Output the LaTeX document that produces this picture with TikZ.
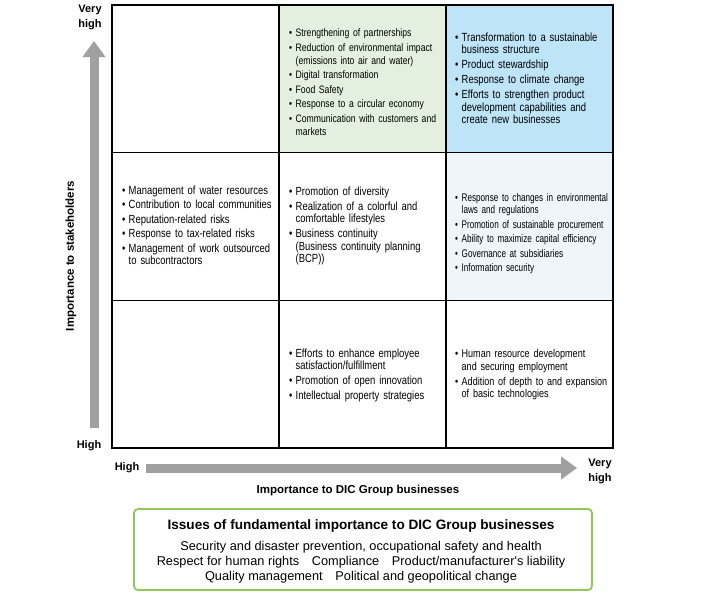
\documentclass[tikz,border=0pt]{standalone}
\usepackage{fontspec}
\setmainfont{Liberation Sans}
\newfontfamily\narrowfont[FakeStretch=0.80]{Liberation Sans}
\newfontfamily\narrowerfont[FakeStretch=0.74]{Liberation Sans}
\usetikzlibrary{positioning}
\usetikzlibrary{arrows.meta}

\definecolor{cellgreen}{RGB}{227,240,223}
\definecolor{cellblue}{RGB}{190,228,248}
\definecolor{cellpale}{RGB}{238,246,251}
\definecolor{arrowgray}{RGB}{160,160,160}
\definecolor{boxgreen}{RGB}{146,200,90}

\newcommand{\itm}[1]{\par\hangindent=6.5pt\relax\hangafter=1\relax\noindent\strut\makebox[6.5pt][l]{\textbullet}#1}

\begin{document}
\begin{tikzpicture}[%
    x=1pt, y=-1pt,
    node distance=0pt,
cell/.style={rectangle, draw=black, line width=1.3pt, outer sep=0pt, minimum width=167pt, minimum height=147.7pt},
celltext/.style={anchor=north west, inner sep=0pt, text width=165pt, align=left, font=\narrowfont\fontsize{11.8}{12.5}\selectfont, execute at begin node={\setlength{\parindent}{0pt}\setlength{\parskip}{#1}}},
celltext/.default=2.5pt,
axislabel/.style={align=center, inner sep=0pt, font=\bfseries\fontsize{11}{15}\selectfont},
axistitle/.style={inner sep=0pt, font=\bfseries\fontsize{11.5}{14}\selectfont},
bigarrow/.style={draw=arrowgray, line width=9pt, -{Triangle[width=22pt,length=16pt]}},
issuebox/.style={rectangle, rounded corners=4pt, draw=boxgreen, line width=1.8pt, minimum width=458pt, minimum height=81pt},
issuetext/.style={inner sep=0pt, align=center, font=\fontsize{12.75}{15}\selectfont}
]
\useasboundingbox (0,0) rectangle (720,600);

% matrix cells
\node[cell, anchor=north west] (c11) at (112,5) {};
\node[cell, fill=cellgreen]    (c12) [right=of c11] {};
\node[cell, fill=cellblue]     (c13) [right=of c12] {};

\node[cell]                    (c21) [below=of c11] {};
\node[cell]                    (c22) [right=of c21] {};
\node[cell, fill=cellpale]     (c23) [right=of c22] {};

\node[cell]                    (c31) [below=of c21] {};
\node[cell]                    (c32) [right=of c31] {};
\node[cell]                    (c33) [right=of c32] {};

% cell texts
\node[celltext=1.5pt, font=\narrowfont\fontsize{10.8}{13}\selectfont] (t12) at (289,22) {%
\itm{Strengthening of partnerships}
\itm{Reduction of environmental impact\newline(emissions into air and water)}
\itm{Digital transformation}
\itm{Food Safety}
\itm{Response to a circular economy}
\itm{Communication with customers and\newline markets}\par};

\node[celltext] (t13) at (455,26) {%
\itm{Transformation to a sustainable\newline business structure}
\itm{Product stewardship}
\itm{Response to climate change}
\itm{Efforts to strengthen product\newline development capabilities and\newline create new businesses}\par};

\node[celltext=2pt] (t21) at (122,179.5) {%
\itm{Management of water resources}
\itm{Contribution to local communities}
\itm{Reputation-related risks}
\itm{Response to tax-related risks}
\itm{Management of work outsourced\newline to subcontractors}\par};

\node[celltext] (t22) at (289,180) {%
\itm{Promotion of diversity}
\itm{Realization of a colorful and\newline comfortable lifestyles}
\itm{Business continuity\newline(Business continuity planning\newline(BCP))}\par};

\node[celltext=2pt, font=\narrowerfont\fontsize{11}{12.5}\selectfont] (t23) at (455,186.5) {%
\itm{Response to changes in environmental\newline laws and regulations}
\itm{Promotion of sustainable procurement}
\itm{Ability to maximize capital efficiency}
\itm{Governance at subsidiaries}
\itm{Information security}\par};

\node[celltext] (t32) at (289,342) {%
\itm{Efforts to enhance employee\newline satisfaction/fulfillment}
\itm{Promotion of open innovation}
\itm{Intellectual property strategies}\par};

\node[celltext, font=\narrowfont\fontsize{11.3}{12.5}\selectfont] (t33) at (455,342.7) {%
\itm{Human resource development\newline and securing employment}
\itm{Addition of depth to and expansion\newline of basic technologies}\par};

% axes
\coordinate (ybottom) at (94,428);
\coordinate (ytop) at (94,41);
\coordinate (xleft) at (146,468);
\coordinate (xright) at (577,468);
\draw[bigarrow] (ybottom) -- (ytop);
\draw[bigarrow] (xleft) -- (xright);

\node[axislabel] (yveryhigh) at (90,17.5) {Very\\high};
\node[axislabel] (yhigh) at (89,446) {High};
\node[axislabel] (xhigh) at (127,467.5) {High};
\node[axislabel] (xveryhigh) at (600,471) {Very\\high};
\node[axistitle] (xtitle) at (358,491) {Importance to DIC Group businesses};
\node[axistitle, rotate=90] (ytitle) at (71,256) {Importance to stakeholders};

% fundamental issues
\node[issuebox] (issues) at (363,549.5) {};
\node[issuetext] (issuestext) at (361,551.5) {%
{\bfseries\fontsize{13.6}{15}\selectfont Issues of fundamental importance to DIC Group businesses}\\[6pt]
Security and disaster prevention, occupational safety and health\\
Respect for human rights\quad Compliance\quad Product/manufacturer\textquotesingle s liability\\
Quality management\quad Political and geopolitical change};

\end{tikzpicture}
\end{document}
